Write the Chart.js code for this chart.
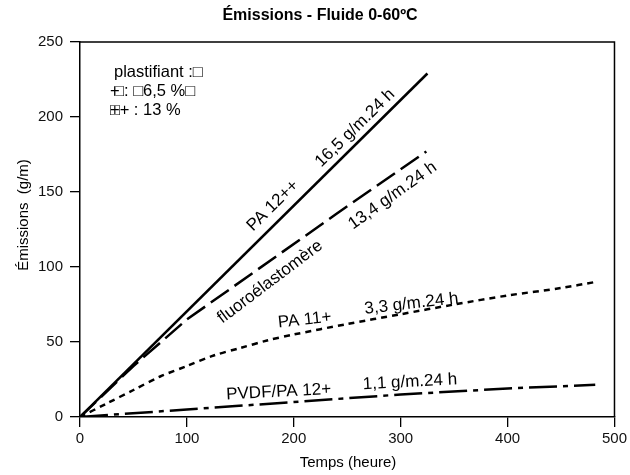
<!DOCTYPE html>
<html>
<head>
<meta charset="utf-8">
<script src="https://cdn.jsdelivr.net/npm/chart.js@4.4.0/dist/chart.umd.min.js"></script>
<style>
  html, body { margin: 0; padding: 0; background: #fff; }
  #wrap { width: 630px; height: 475px; }
</style>
</head>
<body>
<div id="wrap"><canvas id="emChart" width="630" height="475"></canvas></div>
<script>
// data
const xTicks = [0, 100, 200, 300, 400, 500];
const yTicks = [0, 50, 100, 150, 200, 250];

const pa12Times = [0, 325];
const pa12Values = [0, 229];

const fluoroTimes = [0, 50, 100, 239, 324];
const fluoroValues = [0, 34, 65, 135, 177];

const pa11Times = [0, 25, 50, 75, 100, 125, 150, 175, 200, 250, 300, 350, 400, 450, 482];
const pa11Values = [0, 9, 18, 27, 34, 41, 46, 51, 55, 62, 68.5, 75, 81, 86, 90];

const pvdfTimes = [0, 100, 200, 300, 400, 482];
const pvdfValues = [0, 5, 10, 15, 19, 21.5];

// text along the curves (anchored in data units, nudged in px along the normal)
const lineLabels = [
  { text: 'PA 12++', x: 183, y: 139, angle: -44.5, dy: -4 },
  { text: '16,5 g/m.24 h', x: 260, y: 190.7, angle: -44.5, dy: -4 },
  { text: 'fluoroélastomère', x: 175, y: 92.7, angle: -37, dy: 5 },
  { text: '13,4 g/m.24 h', x: 288.6, y: 151.3, angle: -35.5, dy: 7 },
  { text: 'PA 11+', x: 210.4, y: 62.7, angle: -6, dy: -3 },
  { text: '3,3 g/m.24 h', x: 310.4, y: 73.5, angle: -6.5, dy: -3 },
  { text: 'PVDF/PA 12+', x: 186, y: 14.7, angle: -3, dy: -3 },
  { text: '1,1 g/m.24 h', x: 308.8, y: 21.3, angle: -3, dy: -3 }
];

const FONT = '"Liberation Sans", Arial, Helvetica, sans-serif';

function pts(xs, ys) {
  return xs.map((x, i) => ({ x: x, y: ys[i] }));
}

const extras = {
  id: 'extras',
  afterDraw(chart) {
    const c = chart.ctx;
    const a = chart.chartArea;
    const xs = chart.scales.x;
    const ys = chart.scales.y;
    c.save();
    // frame top + right
    c.strokeStyle = '#000';
    c.lineWidth = 1.5;
    c.beginPath();
    c.moveTo(a.left, a.top);
    c.lineTo(a.right, a.top);
    c.lineTo(a.right, a.bottom);
    c.stroke();

    c.fillStyle = '#000';
    // title
    c.font = 'bold 16px ' + FONT;
    c.textAlign = 'center';
    c.textBaseline = 'middle';
    c.fillText('Émissions - Fluide 0-60ºC', 320, 16);

    // axis titles
    c.font = '15px ' + FONT;
    c.fillText('Temps (heure)', 348, 463);
    c.save();
    c.translate(24, 215);
    c.rotate(-Math.PI / 2);
    c.fillText('Émissions  (g/m)', 0, 0);
    c.restore();

    // curve labels
    c.font = '17px ' + FONT;
    lineLabels.forEach(l => {
      c.save();
      c.translate(xs.getPixelForValue(l.x), ys.getPixelForValue(l.y));
      c.rotate(l.angle * Math.PI / 180);
      c.fillText(l.text, 0, l.dy);
      c.restore();
    });

    // plasticiser note
    c.font = '16.5px ' + FONT;
    c.textAlign = 'left';
    c.fillText('plastifiant :□', 114, 72);
    c.fillText('□: □6,5 %□', 114, 91);
    c.fillText('+', 110, 91);
    c.fillText('++ : 13 %', 110, 110);
    c.fillText('□', 110, 110);
    c.restore();
  }
};

const ctx = document.getElementById('emChart');

new Chart(ctx, {
  type: 'line',
  data: {
    datasets: [
      { label: 'PA 12++', data: pts(pa12Times, pa12Values), borderDash: [] },
      { label: 'fluoroélastomère', data: pts(fluoroTimes, fluoroValues), borderDash: [22, 7] },
      { label: 'PA 11+', data: pts(pa11Times, pa11Values), borderDash: [6, 5], tension: 0.3 },
      { label: 'PVDF/PA 12+', data: pts(pvdfTimes, pvdfValues), borderDash: [28, 6, 5, 6] }
    ]
  },
  options: {
    responsive: false,
    animation: false,
    layout: { padding: { top: 42, right: 12, left: 0, bottom: 0 } },
    elements: {
      line: { borderColor: '#000', borderWidth: 2.5, fill: false },
      point: { radius: 0 }
    },
    plugins: {
      legend: { display: false },
      title: { display: false },
      tooltip: { enabled: false }
    },
    scales: {
      x: {
        type: 'linear',
        min: 0,
        max: 500,
        afterBuildTicks: s => { s.ticks = xTicks.map(v => ({ value: v })); },
        afterFit: s => { s.height = 58; },
        grid: { drawOnChartArea: false, drawTicks: true, tickLength: 10, color: '#000', lineWidth: 1.3 },
        border: { color: '#000', width: 1.5 },
        ticks: { color: '#111', padding: 3, maxRotation: 0, font: { family: FONT, size: 15 } }
      },
      y: {
        min: 0,
        max: 250,
        afterBuildTicks: s => { s.ticks = yTicks.map(v => ({ value: v })); },
        afterFit: s => { s.width = 80; },
        grid: { drawOnChartArea: false, drawTicks: true, tickLength: 10, color: '#000', lineWidth: 1.3 },
        border: { color: '#000', width: 1.5 },
        ticks: { color: '#111', padding: 7, font: { family: FONT, size: 15 } }
      }
    }
  },
  plugins: [extras]
});
</script>
</body>
</html>
